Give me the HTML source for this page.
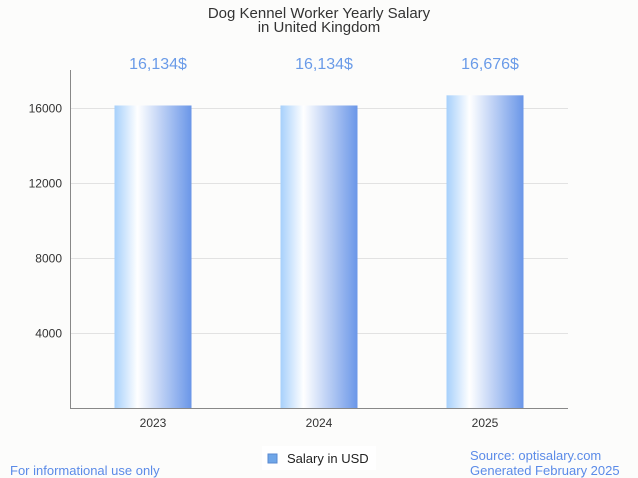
<!DOCTYPE html>
<html><head><meta charset="utf-8"><style>
body{margin:0;background:#fcfcfb;font-family:"Liberation Sans",sans-serif;}
svg{display:block}
</style></head><body>
<svg width="638" height="478" viewBox="0 0 638 478">
<defs>
<linearGradient id="bg" x1="0" x2="1" y1="0" y2="0">
<stop offset="0" stop-color="#a6d0fb"/>
<stop offset="0.3" stop-color="#ffffff"/>
<stop offset="1" stop-color="#6a96e8"/>
</linearGradient>
</defs>
<rect width="638" height="478" fill="#fcfcfb"/>
<text x="319" y="18" text-anchor="middle" font-size="15" fill="#333">Dog Kennel Worker Yearly Salary</text>
<text x="319" y="32" text-anchor="middle" font-size="15" fill="#333">in United Kingdom</text>
<g id="grid"></g>
<g id="bars"></g>
<line x1="70.5" y1="70" x2="70.5" y2="408" stroke="#888"/>
<line x1="70" y1="408.5" x2="568" y2="408.5" stroke="#888"/>
<rect x="262" y="446" width="114" height="24" fill="#fff"/>
<rect x="268" y="454" width="9" height="9" fill="#6fa6e8" stroke="#5a8ad0"/>
<text x="287" y="463" font-size="13" fill="#222">Salary in USD</text>
<text x="10" y="475" font-size="13" fill="#5b8be8">For informational use only</text>
<text x="470" y="460" font-size="13" fill="#5b8be8">Source: optisalary.com</text>
<text x="470" y="475" font-size="13" fill="#5b8be8">Generated February 2025</text>
</svg>
<script>
const categories=["2023","2024","2025"];
const values=[16134,16134,16676];
const valueLabels=["16,134$","16,134$","16,676$"];
const yTicks=[4000,8000,12000,16000];
const NS="http://www.w3.org/2000/svg";
const x0=70,x1=568,y0=408,pxPer=75/4000;
const yS=v=>y0-v*pxPer;
const band=(x1-x0)/categories.length;
const grid=document.getElementById('grid'),bars=document.getElementById('bars');
function mk(t,a,p){const e=document.createElementNS(NS,t);for(const k in a)e.setAttribute(k,a[k]);p.appendChild(e);return e;}
yTicks.forEach(t=>{
 const y=Math.round(yS(t))+0.5;
 const l=mk('line',{x1:x0,x2:x1,y1:y,y2:y,stroke:'#e2e2e2'},grid);
 
 
 const tx=mk('text',{x:62,y:y+4,'text-anchor':'end','font-size':12,fill:'#333'},grid);
 tx.textContent=t;
 
 
});
categories.forEach((c,i)=>{
 const cx=x0+band*(i+0.5),w=77;
 const r=mk('rect',{x:cx-w/2,y:yS(values[i]),width:w,height:y0-yS(values[i]),fill:'url(#bg)'},bars);
 
 
 const vl=mk('text',{x:cx+5,y:69,'text-anchor':'middle','font-size':16,fill:'#6a9be8'},bars);
 vl.textContent=valueLabels[i];
 
 
 const xl=mk('text',{x:cx,y:427,'text-anchor':'middle','font-size':12,fill:'#333'},bars);
 xl.textContent=c;
 
 
});
</script>
</body></html>
